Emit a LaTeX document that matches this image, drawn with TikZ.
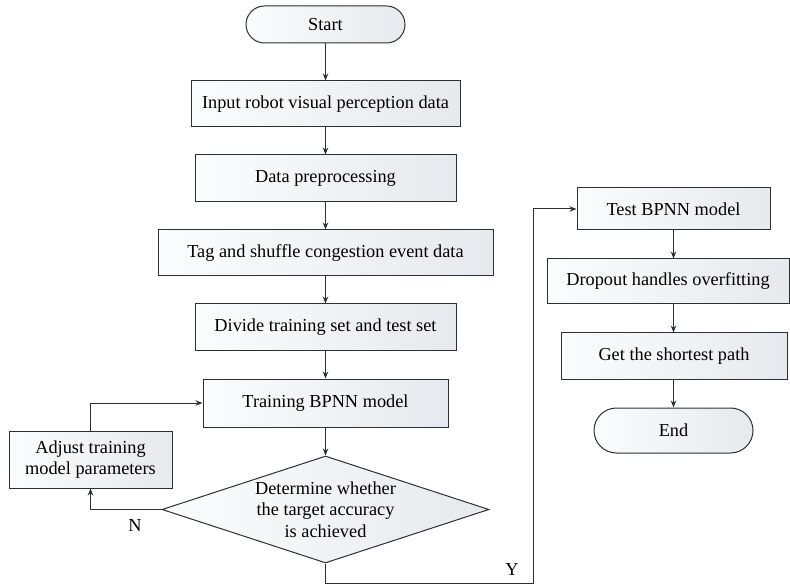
\documentclass[tikz,border=0pt]{standalone}
\usepackage{fontspec}
\setmainfont{Liberation Serif}
\usetikzlibrary{shapes.misc,shapes.geometric,arrows.meta}
\definecolor{edgec}{RGB}{45,47,50}
\definecolor{fillL}{RGB}{251,252,253}
\definecolor{fillR}{RGB}{230,233,237}
\tikzset{
  every node/.style={font=\fontsize{18.3}{21.5}\selectfont},
  base/.style={draw=edgec, line width=1pt, left color=fillL, right color=fillR, inner sep=0pt, align=center},
  procbox/.style={base, rectangle},
  termbox/.style={base, rounded rectangle},
  decbox/.style={base, diamond, aspect=3.05},
  conn/.style={draw=edgec, line width=1pt, -{Stealth[length=7pt,width=5.5pt]}},
  lbl/.style={inner sep=0pt}
}
\begin{document}
\begin{tikzpicture}[x=1pt,y=-1pt]
\useasboundingbox (0,0) rectangle (790,585);
\node[termbox, minimum width=159pt, minimum height=37pt] (start) at (325.5,24.5) {Start};
\node[procbox, minimum width=269pt, minimum height=46pt] (input) at (325.5,104) {Input robot visual perception data};
\node[procbox, minimum width=261pt, minimum height=47pt] (prep) at (325.5,178.5) {Data preprocessing};
\node[procbox, minimum width=335pt, minimum height=46pt] (tag) at (325.5,253) {Tag and shuffle congestion event data};
\node[procbox, minimum width=261pt, minimum height=47pt] (divide) at (325.5,327.5) {Divide training set and test set};
\node[procbox, minimum width=245pt, minimum height=48pt] (train) at (325.5,403) {Training BPNN model};
\node[procbox, minimum width=163pt, minimum height=57pt] (adjust) at (90.5,459.5) {Adjust training\\model parameters};
\node[decbox, minimum width=327pt, minimum height=107pt] (dec) at (325.5,509.5) {Determine whether\\the target accuracy\\is achieved};
\node[procbox, minimum width=193pt, minimum height=42pt] (test) at (673.5,209) {Test BPNN model};
\node[procbox, minimum width=242pt, minimum height=45pt] (drop) at (668,281.5) {Dropout handles overfitting};
\node[procbox, minimum width=226pt, minimum height=46pt] (path) at (674,356) {Get the shortest path};
\node[termbox, minimum width=159pt, minimum height=45pt] (end) at (673.5,430.5) {End};
\coordinate (ybot) at (325.5,583);
\coordinate (yright) at (533,583);
\draw[conn] (start) -- (input);
\draw[conn] (input) -- (prep);
\draw[conn] (prep) -- (tag);
\draw[conn] (tag) -- (divide);
\draw[conn] (divide) -- (train);
\draw[conn] (train) -- (dec);
\draw[conn] (dec.west) -| (adjust.south);
\draw[conn] (adjust.north) |- (train.west);
\draw[conn] (dec.south) -- (ybot) -- (yright) |- (test.west);
\draw[conn] (test.south) -- (test.south |- drop.north);
\draw[conn] (test.south |- drop.south) -- (test.south |- path.north);
\draw[conn] (test.south |- path.south) -- (test.south |- end.north);
\node[lbl] (nlbl) at (135,526) {N};
\node[lbl] (ylbl) at (512,570) {Y};
\end{tikzpicture}
\end{document}
